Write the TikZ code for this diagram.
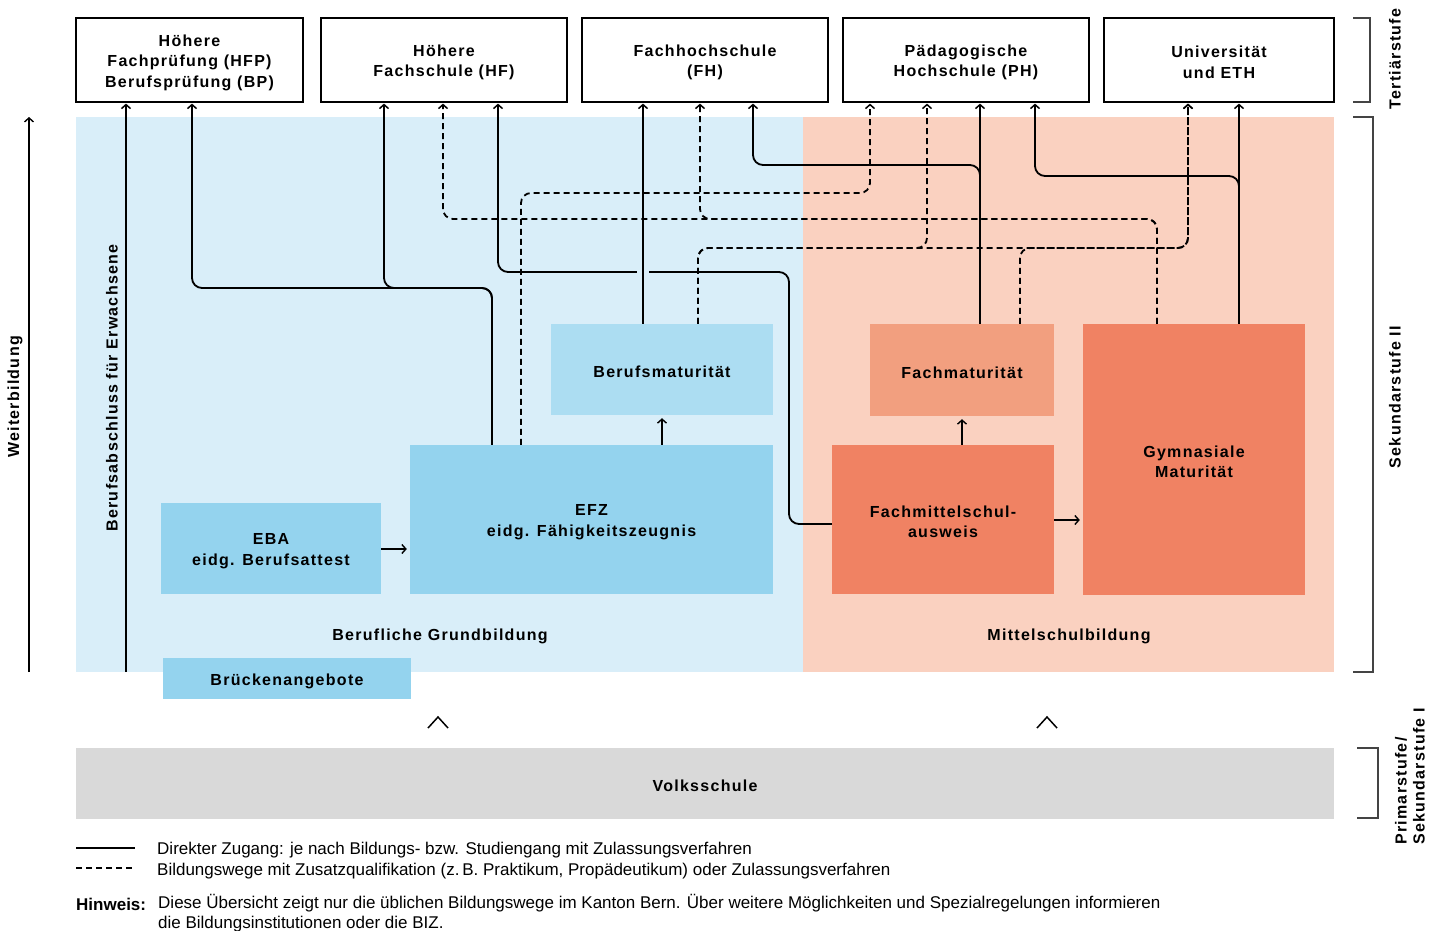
\documentclass[tikz,border=0pt]{standalone}
\usepackage{fontspec}
\setmainfont{Liberation Sans}
\newfontfamily\lbl[LetterSpace=8]{Liberation Sans}
\usetikzlibrary{arrows.meta,calc}
\definecolor{bgblue}{HTML}{D9EEF9}
\definecolor{bmblue}{HTML}{ACDDF2}
\definecolor{efzblue}{HTML}{94D3EE}
\definecolor{bgpink}{HTML}{FAD1C0}
\definecolor{fmpink}{HTML}{F29F7F}
\definecolor{fmsorange}{HTML}{F08263}
\definecolor{vsgray}{HTML}{D9D9D9}
\definecolor{brk}{HTML}{444444}
\begin{document}
\begin{tikzpicture}[x=1pt,y=-1pt,
  lblfont/.style={font=\lbl\bfseries\fontsize{16}{20.5}\selectfont},
  topbox/.style={draw=black, line width=1.2pt, fill=white, inner sep=0pt, minimum height=84pt},
  area/.style={inner sep=0pt},
  txt/.style={inner sep=0pt, align=center, lblfont, yshift=-2.5pt},
  conn/.style={line width=1.8pt, rounded corners=10pt, shorten >=1pt, -{Straight Barb[length=4pt,width=9pt,line width=1.5pt]}},
  dconn/.style={conn, dash pattern=on 6pt off 4pt},
  small/.style={line width=1.6pt, -{Straight Barb[length=4pt,width=9pt,line width=1.4pt]}},
  bracket/.style={draw=brk, line width=1.3pt},
  sidelbl/.style={lblfont, rotate=90, align=left},
  legend/.style={font=\fontsize{17}{19.5}\selectfont, anchor=west, inner sep=0pt, align=left, yshift=-1.5pt}
]
\useasboundingbox (0,0) rectangle (1442,930);
\fill[white] (0,0) rectangle (1442,930);

% backgrounds
\fill[bgblue] (76,117) rectangle (803,672);
\fill[bgpink] (803,117) rectangle (1334,672);

% top boxes
\node[topbox, minimum width=227pt] (hfp) at (189.5,60) {};
\node[topbox, minimum width=246pt] (hf)  at (444,60) {};
\node[topbox, minimum width=246pt] (fh)  at (705,60) {};
\node[topbox, minimum width=246pt] (ph)  at (966,60) {};
\node[topbox, minimum width=230pt] (uni) at (1219,60) {};
\node[txt] (hfpt) at (hfp.center) {Höhere\\Fachprüfung (HFP)\\Berufsprüfung (BP)};
\node[txt] (hft)  at (hf.center) {Höhere\\Fachschule (HF)};
\node[txt] (fht)  at (fh.center) {Fachhochschule\\(FH)};
\node[txt] (pht)  at (ph.center) {Pädagogische\\Hochschule (PH)};
\node[txt] (unit) at (uni.center) {Universität\\und ETH};

% inner boxes
\node[area, fill=bmblue, minimum width=222pt, minimum height=91pt] (bm) at (662,369.5) {};
\node[area, fill=efzblue, minimum width=363pt, minimum height=149pt] (efz) at (591.5,519.5) {};
\node[area, fill=efzblue, minimum width=220pt, minimum height=91pt] (eba) at (271,548.5) {};
\node[area, fill=efzblue, minimum width=248pt, minimum height=41pt] (brueck) at (287,678.5) {};
\node[area, fill=fmpink, minimum width=184pt, minimum height=92pt] (fm) at (962,370) {};
\node[area, fill=fmsorange, minimum width=222pt, minimum height=149pt] (fms) at (943,519.5) {};
\node[area, fill=fmsorange, minimum width=222pt, minimum height=271pt] (gym) at (1194,459.5) {};
\node[area, fill=vsgray, minimum width=1258pt, minimum height=71pt] (volks) at (705,783.5) {};
\node[txt] (bmt) at (bm.center) {Berufsmaturität};
\node[txt] (efzt) at (efz.center) {EFZ\\eidg. Fähigkeitszeugnis};
\node[txt] (ebat) at (eba.center) {EBA\\eidg. Berufsattest};
\node[txt] (bruecktt) at (brueck.center) {Brückenangebote};
\node[txt] (fmt) at (fm.center) {Fachmaturität};
\node[txt] (fmst) at (fms.center) {Fachmittelschul-\\ausweis};
\node[txt] (gymt) at (gym.center) {Gymnasiale\\Maturität};
\node[txt] (volkst) at (volks.center) {Volksschule};

\node[txt] (bgl) at (440,634) {Berufliche Grundbildung};
\node[txt] (msb) at (1069,634) {Mittelschulbildung};

% side labels left
\coordinate (wb0) at (29,672);
\coordinate (wb1) at (29,117);
\draw[small] (wb0) -- (wb1);
\node[sidelbl] (wbl) at (15,397) {Weiterbildung};
\coordinate (bae) at (126,672);
\draw[conn] (bae) -- (126,0 |- hfp.south);
\node[sidelbl] (bal) at (112,388) {Berufsabschluss für Erwachsene};

% solid connectors
\draw[conn] (492,0 |- efz.north) -- (492,288) -- (192,288) -- (192,0 |- hfp.south);
\draw[conn] (492,0 |- efz.north) -- (492,288) -- (384,288) -- (384,0 |- hf.south);
\draw[conn] (fms.west |- 0,524) -- (789,524) -- (789,272) -- (498,272) -- (498,0 |- hf.south);
\fill[bgblue] (637,266) rectangle (649,278);
\draw[conn] (643,0 |- bm.north) -- (643,0 |- fh.south);
\draw[conn] (980,0 |- fm.north) -- (980,0 |- ph.south);
\draw[conn] (980,0 |- fm.north) -- (980,165) -- (753,165) -- (753,0 |- fh.south);
\draw[conn] (1239,0 |- gym.north) -- (1239,0 |- uni.south);
\draw[conn] (1239,0 |- gym.north) -- (1239,176) -- (1035,176) -- (1035,0 |- ph.south);

% dashed connectors
\draw[dconn] (1157,0 |- gym.north) -- (1157,219) -- (443,219) -- (443,0 |- hf.south);
\draw[dconn] (1157,0 |- gym.north) -- (1157,219) -- (700,219) -- (700,0 |- fh.south);
\draw[dconn] (521,0 |- efz.north) -- (521,193) -- (870,193) -- (870,0 |- ph.south);
\draw[dconn] (698,0 |- bm.north) -- (698,248) -- (927,248) -- (927,0 |- ph.south);
\draw[dconn] (698,0 |- bm.north) -- (698,248) -- (1188,248) -- (1188,0 |- uni.south);
\draw[dconn] (1020,0 |- fm.north) -- (1020,248) -- (1188,248) -- (1188,0 |- uni.south);

% short arrows
\draw[small, shorten >=3pt] (662,0 |- efz.north) -- (662,0 |- bm.south);
\draw[small, shorten >=3pt] (962,0 |- fms.north) -- (962,0 |- fm.south);
\draw[small, shorten >=3pt] (eba.east |- 0,549) -- (efz.west |- 0,549);
\draw[small, shorten >=3pt] (fms.east |- 0,520) -- (gym.west |- 0,520);

% chevrons
\draw[line width=1.5pt] (428,728) -- (438,717) -- (448,728);
\draw[line width=1.5pt] (1037,728) -- (1047,717) -- (1057,728);

% brackets right
\draw[bracket] (1353,18) -- (1370,18) -- (1370,102) -- (1353,102);
\draw[bracket] (1353,117) -- (1373,117) -- (1373,672) -- (1353,672);
\draw[bracket] (1357,748) -- (1378,748) -- (1378,818) -- (1357,818);
\node[sidelbl] (tl) at (1395,59) {Tertiärstufe};
\node[sidelbl] (sl) at (1395,397) {Sekundarstufe II};
\node[sidelbl, anchor=west, inner sep=0pt, font=\lbl\bfseries\fontsize{16}{18}\selectfont] (pl) at (1410,845) {Primarstufe/\\Sekundarstufe I};

% legend
\coordinate (l1a) at (76,848); \coordinate (l1b) at (135,848);
\coordinate (l2a) at (76,868); \coordinate (l2b) at (135,868);
\draw[line width=1.8pt] (l1a) -- (l1b);
\draw[line width=1.8pt, dash pattern=on 6pt off 4pt] (l2a) -- (l2b);
\node[legend] (lt1) at (157,849) {Direkter Zugang: je nach Bildungs- bzw. Studiengang mit Zulassungsverfahren};
\node[legend] (lt2) at (157,870) {Bildungswege mit Zusatzqualifikation (z.\,B. Praktikum, Propädeutikum) oder Zulassungsverfahren};
\node[legend, font=\bfseries\fontsize{17}{19.5}\selectfont] (hw) at (76,903) {Hinweis:};
\node[legend, anchor=north west] (hwt) at (158,893) {Diese Übersicht zeigt nur die üblichen Bildungswege im Kanton Bern. Über weitere Möglichkeiten und Spezialregelungen informieren\\die Bildungsinstitutionen oder die BIZ.};
\end{tikzpicture}
\end{document}
